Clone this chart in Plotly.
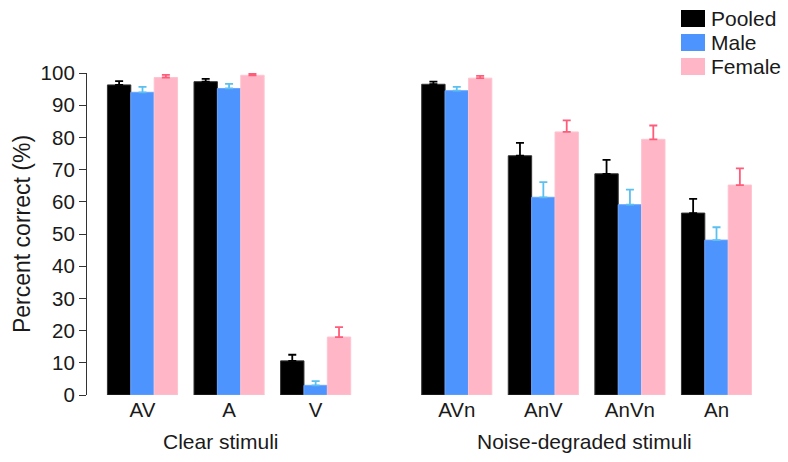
import plotly.graph_objects as go

categories = ["AV", "A", "V", "AVn", "AnV", "AnVn", "An"]
positions = [0, 1, 2, 3.63, 4.63, 5.63, 6.63]

pooled = [96.3, 97.3, 10.6, 96.5, 74.3, 68.7, 56.5]
pooled_err = [1.2, 0.9, 1.9, 0.8, 4.0, 4.3, 4.4]
male = [94.0, 95.2, 3.0, 94.5, 61.4, 59.1, 48.1]
male_err = [1.7, 1.4, 1.3, 1.2, 4.7, 4.7, 4.0]
female = [98.6, 99.3, 18.0, 98.4, 81.7, 79.4, 65.2]
female_err = [0.8, 0.4, 3.1, 0.7, 3.6, 4.3, 5.2]

group_labels = ["Clear stimuli", "Noise-degraded stimuli"]
group_centers = [0.91, 5.1]
yticks = list(range(0, 101, 10))

FONT = "Liberation Sans, Arial, sans-serif"
TXT = "#1a1a1a"

series = [
    ("Pooled", pooled, pooled_err, "#000000", "#333333", "#000000"),
    ("Male", male, male_err, "#4D94FF", "#6AA6FF", "#5BC0F0"),
    ("Female", female, female_err, "#FFB6C6", "#FFC4D0", "#FF5C7A"),
]

# plot area geometry in pixels (for the hand-placed legend)
L, R, T, B, W, H = 87, 36, 73, 67, 788, 462
PW, PH = W - L - R, H - T - B

def px_x(p):
    return (p - L) / PW

def px_y(p):
    return (H - B - p) / PH

fig = go.Figure()
for i, (name, vals, errs, col, lcol, ecol) in enumerate(series):
    fig.add_trace(go.Bar(
        name=name, x=positions, y=vals, showlegend=False,
        marker=dict(color=col, line=dict(color=lcol, width=1)),
        error_y=dict(type="data", symmetric=False, array=errs,
                     arrayminus=[0] * len(errs), color=ecol,
                     thickness=1.8, width=4),
    ))
    y0 = 10 + 24 * i
    fig.add_shape(type="rect", xref="paper", yref="paper",
                  x0=px_x(681), x1=px_x(705), y0=px_y(y0 + 17), y1=px_y(y0),
                  fillcolor=col, line=dict(width=0))
    fig.add_annotation(x=px_x(709), y=px_y(y0 + 8.5), xref="paper", yref="paper",
                       text=name, showarrow=False, xanchor="left", yanchor="middle",
                       font=dict(family=FONT, size=21, color=TXT))

for lab, cx in zip(group_labels, group_centers):
    fig.add_annotation(x=cx, xref="x", y=-0.145, yref="paper",
                       text=lab, showarrow=False, yanchor="middle",
                       font=dict(family=FONT, size=21, color=TXT))

fig.update_layout(
    width=W, height=H,
    margin=dict(l=L, r=R, t=T, b=B, autoexpand=False),
    paper_bgcolor="white", plot_bgcolor="white",
    barmode="group", bargap=0.19, bargroupgap=0,
    font=dict(family=FONT, size=20, color=TXT),
    showlegend=False,
)
fig.update_xaxes(
    range=[-0.641, 7.04], tickmode="array", tickvals=positions,
    ticktext=categories, showline=False, showgrid=False, zeroline=False,
    ticks="", tickfont=dict(family=FONT, size=20.5, color=TXT),
)
fig.update_yaxes(
    range=[0, 100], tickmode="array", tickvals=yticks,
    showline=True, linecolor="#333333", linewidth=1.2,
    ticks="outside", ticklen=7, tickcolor="#333333", tickwidth=1.2,
    showgrid=False, zeroline=False,
    tickfont=dict(family=FONT, size=20.5, color=TXT),
    title=dict(text="Percent correct (%)", standoff=3,
               font=dict(family=FONT, size=23, color=TXT)),
)

fig.write_html("out.html", config={"displayModeBar": False},
               post_script="document.body.style.margin='0';")
